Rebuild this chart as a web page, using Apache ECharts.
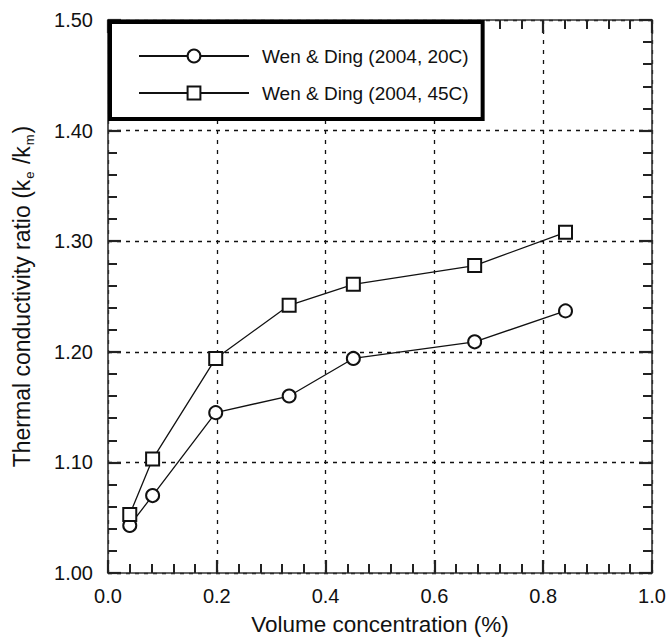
<!DOCTYPE html>
<html>
<head>
<meta charset="utf-8">
<script src="https://cdn.jsdelivr.net/npm/echarts@6/dist/echarts.min.js"></script>
<style>
html,body{margin:0;padding:0;background:#fff;}
#chart{width:670px;height:642px;}
</style>
</head>
<body>
<div id="chart"></div>
<script>
// ---- data ----
const xValues = [0.04, 0.082, 0.198, 0.333, 0.451, 0.674, 0.841];
const ratio20C = [1.043, 1.070, 1.145, 1.160, 1.194, 1.209, 1.237];
const ratio45C = [1.053, 1.103, 1.194, 1.242, 1.261, 1.278, 1.308];
const seriesNames = ['Wen & Ding (2004, 20C)', 'Wen & Ding (2004, 45C)'];
const xTicks = { min: 0, max: 1.0, step: 0.2, minorPerMajor: 5 };
const yTicks = { min: 1.0, max: 1.5, step: 0.1, minorPerMajor: 5 };
const xTitle = 'Volume concentration (%)';

const FONT = '"Liberation Sans", Arial, Helvetica, sans-serif';
const chart = echarts.init(document.getElementById('chart'), null, { renderer: 'svg' });

function pairs(xs, ys) { return xs.map((x, i) => [x, ys[i]]); }

function axisLine() { return { show: true, onZero: false, lineStyle: { color: '#333', width: 1.6 } }; }
function tick() { return { show: true, inside: true, length: 13, lineStyle: { color: '#222', width: 2.2 } }; }
function minorTick(t) { return { show: true, splitNumber: t.minorPerMajor, length: 9, lineStyle: { color: '#222', width: 2 } }; }

const option = {
  backgroundColor: '#fff',
  animation: false,
  grid: { left: 108, right: 18, top: 20, bottom: 69, containLabel: false },
  legend: {
    orient: 'vertical',
    left: 110, top: 22,
    padding: [24, 14, 16, 28],
    borderColor: '#000', borderWidth: 4,
    backgroundColor: '#fff',
    itemWidth: 110, itemHeight: 16, itemGap: 17,
    textStyle: { fontFamily: FONT, fontSize: 19, color: '#111', lineHeight: 20, padding: [0, 0, 0, 8] },
    data: seriesNames
  },
  xAxis: [
    {
      type: 'value', position: 'bottom', min: xTicks.min, max: xTicks.max, interval: xTicks.step,
      name: xTitle, nameLocation: 'middle', nameGap: 40,
      nameTextStyle: { fontFamily: FONT, fontSize: 22.5, color: '#111' },
      axisLine: axisLine(), axisTick: tick(), minorTick: minorTick(xTicks),
      axisLabel: { fontFamily: FONT, fontSize: 20, color: '#111', margin: 13, formatter: v => v.toFixed(1) },
      splitLine: { show: true, lineStyle: { color: '#111', width: 1.3, type: [4, 6] } }
    },
    {
      type: 'value', position: 'top', min: xTicks.min, max: xTicks.max, interval: xTicks.step,
      axisLine: axisLine(), axisTick: tick(), minorTick: minorTick(xTicks),
      axisLabel: { show: false }, splitLine: { show: false }
    }
  ],
  yAxis: [
    {
      type: 'value', position: 'left', min: yTicks.min, max: yTicks.max, interval: yTicks.step,
      name: '{t|Thermal conductivity ratio (k}{s|e}{t| /k}{s|m}{t|)}',
      nameLocation: 'middle', nameGap: 72,
      nameTextStyle: {
        fontFamily: FONT, fontSize: 23, color: '#111',
        rich: {
          t: { fontFamily: FONT, fontSize: 23, color: '#111', lineHeight: 28, verticalAlign: 'middle' },
          s: { fontFamily: FONT, fontSize: 13, color: '#111', lineHeight: 28, verticalAlign: 'bottom', padding: [0, 1, 0, 1] }
        }
      },
      axisLine: axisLine(), axisTick: tick(), minorTick: minorTick(yTicks),
      axisLabel: { fontFamily: FONT, fontSize: 20, color: '#111', margin: 15, formatter: v => v.toFixed(2) },
      splitLine: { show: true, lineStyle: { color: '#111', width: 1.3, type: [4, 5] } }
    },
    {
      type: 'value', position: 'right', min: yTicks.min, max: yTicks.max, interval: yTicks.step,
      axisLine: axisLine(), axisTick: tick(), minorTick: minorTick(yTicks),
      axisLabel: { show: false }, splitLine: { show: false }
    }
  ],
  series: [
    {
      name: seriesNames[0], type: 'line', xAxisIndex: 0, yAxisIndex: 0,
      data: pairs(xValues, ratio20C),
      symbol: 'emptyCircle', symbolSize: 13,
      lineStyle: { color: '#111', width: 1.3 },
      itemStyle: { color: '#111', borderColor: '#111', borderWidth: 1.3 },
      z: 5
    },
    {
      name: seriesNames[1], type: 'line', xAxisIndex: 0, yAxisIndex: 0,
      data: pairs(xValues, ratio45C),
      symbol: 'emptyRect', symbolSize: 13,
      lineStyle: { color: '#111', width: 1.3 },
      itemStyle: { color: '#111', borderColor: '#111', borderWidth: 1.3 },
      z: 5
    }
  ]
};
chart.setOption(option);
</script>
</body>
</html>
